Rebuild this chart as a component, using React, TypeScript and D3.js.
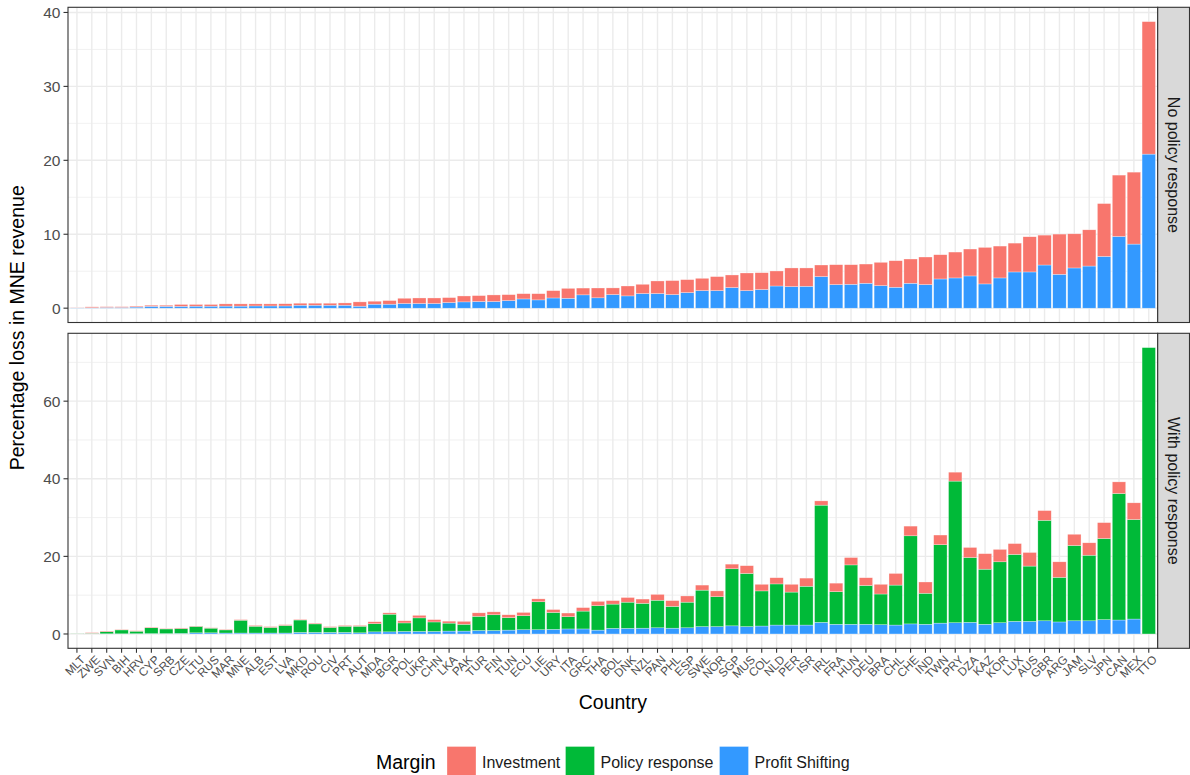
import React from 'react';
import * as d3 from 'd3';

const countries = ['MLT','ZWE','SVN','BIH','HRV','CYP','SRB','CZE','LTU','RUS','MAR','MNE','ALB','EST','LVA','MKD','ROU','CIV','PRT','AUT','MDA','BGR','POL','UKR','CHN','LKA','PAK','TUR','FIN','TUN','ECU','LIE','URY','ITA','GRC','THA','BOL','DNK','NZL','PAN','PHL','ESP','SWE','NOR','SGP','MUS','COL','NLD','PER','ISR','IRL','FRA','HUN','DEU','BRA','CHL','CHE','IND','TWN','PRY','DZA','KAZ','KOR','LUX','AUS','GBR','ARG','JAM','SLV','JPN','CAN','MEX','TTO'];

// Panel 1: No policy response
const noPolicyProfitShifting = [0.04,0.06,0.1,0.1,0.15,0.25,0.25,0.25,0.27,0.27,0.28,0.28,0.3,0.3,0.3,0.4,0.4,0.4,0.4,0.27,0.54,0.54,0.63,0.63,0.63,0.76,0.85,0.9,0.9,1.03,1.25,1.12,1.38,1.34,1.8,1.4,1.84,1.66,1.98,1.98,1.84,2.11,2.38,2.38,2.79,2.38,2.52,3.0,2.92,2.96,4.27,3.19,3.23,3.37,3.05,2.83,3.37,3.19,3.95,4.09,4.36,3.28,4.09,4.9,4.9,5.84,4.58,5.44,5.7,7.0,9.7,8.67,20.84];
const noPolicyInvestment = [0.04,0.12,0.1,0.1,0.12,0.15,0.15,0.25,0.23,0.23,0.3,0.3,0.28,0.28,0.3,0.27,0.27,0.27,0.31,0.58,0.4,0.49,0.71,0.75,0.75,0.67,0.8,0.8,0.89,0.8,0.71,0.84,0.99,1.34,0.92,1.33,0.9,1.34,1.25,1.7,1.89,1.75,1.66,1.89,1.7,2.38,2.28,2.03,2.52,2.48,1.57,2.69,2.65,2.6,3.15,3.59,3.28,3.73,3.28,3.5,3.64,4.94,4.31,3.9,4.76,4.04,5.44,4.62,4.9,7.15,8.3,9.73,17.92];
const noPolicyResponse = countries.map(() => 0);

// Panel 2: With policy response
const withPolicyProfitShifting = [0.02,0.05,0.05,0.05,0.07,0.1,0.1,0.15,0.3,0.3,0.25,0.25,0.25,0.25,0.25,0.4,0.4,0.4,0.4,0.3,0.55,0.55,0.65,0.65,0.65,0.75,0.75,0.9,0.9,1.0,1.1,1.1,1.2,1.3,1.3,1.0,1.45,1.45,1.5,1.6,1.5,1.6,1.9,1.9,2.1,1.9,2.05,2.3,2.3,2.3,3.0,2.5,2.5,2.5,2.4,2.3,2.6,2.5,2.8,2.9,3.0,2.5,2.9,3.25,3.25,3.4,3.1,3.4,3.4,3.7,3.6,3.85,0];
const withPolicyResponse = [0.08,0.15,0.55,1.0,0.65,1.5,1.2,1.25,1.65,1.2,0.8,3.3,1.75,1.45,1.95,3.2,2.2,1.3,1.6,1.7,2.1,4.55,2.2,3.5,2.45,2.05,1.75,3.65,4.05,3.2,3.6,7.2,4.35,3.15,4.6,6.3,6.25,6.75,6.4,7.1,5.6,6.6,9.4,7.7,14.7,13.7,9.05,10.6,8.5,10.0,30.2,8.4,15.3,10.0,7.9,10.3,22.7,8.0,20.2,36.5,16.7,14.2,15.7,17.25,14.25,25.9,11.5,19.4,16.9,20.9,32.6,25.65,73.8];
const withPolicyInvestment = [0.02,0.15,0.15,0.12,0.12,0.18,0.12,0.15,0.1,0.1,0.15,0.15,0.2,0.2,0.2,0.15,0.2,0.2,0.2,0.2,0.5,0.35,0.55,0.65,0.6,0.5,0.75,0.9,0.75,0.75,0.85,0.75,0.75,0.95,0.9,1.1,0.9,1.2,1.1,1.5,1.5,1.6,1.3,1.5,1.2,2.0,1.7,1.6,2.0,2.1,1.1,2.2,1.9,2.0,2.5,3.0,2.5,2.9,2.5,2.3,2.6,4.0,3.2,2.8,3.5,2.5,4.0,2.9,3.2,4.1,3.0,4.3,0];

const marginLabels = ['Investment', 'Policy response', 'Profit Shifting'];
const marginColors = ['#F8766D', '#00BA38', '#3399FF'];
const stackOrder = ['Profit Shifting', 'Policy response', 'Investment'];

const facetLabels = ['No policy response', 'With policy response'];
const topTicks = [0, 10, 20, 30, 40];
const topMinorTicks = [5, 15, 25, 35];
const bottomTicks = [0, 20, 40, 60];
const bottomMinorTicks = [10, 30, 50, 70];

const W = 1190;
const H = 775;
const FONT = '"Liberation Sans", Arial, Helvetica, sans-serif';
const panelLeft = 68;
const panelRight = 1157.7;
const stripRight = 1189.5;
const panels = [
  { top: 7.3, bottom: 322.5 },
  { top: 333.3, bottom: 648.3 },
];

type Row = { country: string; [k: string]: number | string };

function buildRows(ps: number[], pr: number[], inv: number[]): Row[] {
  return countries.map((c, i) => ({
    country: c,
    'Profit Shifting': ps[i],
    'Policy response': pr[i],
    Investment: inv[i],
  }));
}

const facetData = [
  buildRows(noPolicyProfitShifting, noPolicyResponse, noPolicyInvestment),
  buildRows(withPolicyProfitShifting, withPolicyResponse, withPolicyInvestment),
];
const facetTicks = [topTicks, bottomTicks];
const facetMinor = [topMinorTicks, bottomMinorTicks];

const colorOf = d3.scaleOrdinal<string, string>().domain(marginLabels).range(marginColors);

export default function App() {
  const x = d3.scalePoint<string>().domain(countries).range([panelLeft, panelRight]).padding(0.6);
  const step = x.step();
  const barW = step * 0.9;
  const stack = d3.stack<Row>().keys(stackOrder).value((d, k) => d[k] as number);

  return (
    <svg width={W} height={H} style={{ position: 'absolute', left: 0, top: 0, background: '#fff' }} fontFamily={FONT}>
      <rect x={0} y={0} width={W} height={H} fill="#fff" />
      {facetData.map((rows, fi) => {
        const p = panels[fi];
        const series = stack(rows);
        const maxV = d3.max(series[series.length - 1], (d) => d[1]) as number;
        const y = d3.scaleLinear().domain([-0.05 * maxV, maxV * 1.05]).range([p.bottom, p.top]);
        return (
          <g key={fi}>
            <rect x={panelLeft} y={p.top} width={panelRight - panelLeft} height={p.bottom - p.top} fill="#fff" />
            {facetMinor[fi].map((t) => (
              <line key={'mn' + t} x1={panelLeft} x2={panelRight} y1={y(t)} y2={y(t)} stroke="#EBEBEB" strokeWidth={0.7} />
            ))}
            {facetTicks[fi].map((t) => (
              <line key={'mj' + t} x1={panelLeft} x2={panelRight} y1={y(t)} y2={y(t)} stroke="#EBEBEB" strokeWidth={1.4} />
            ))}
            {countries.map((c) => (
              <line key={'v' + c} x1={x(c)} x2={x(c)} y1={p.top} y2={p.bottom} stroke="#EBEBEB" strokeWidth={1.4} />
            ))}
            {series.map((s) => (
              <g key={s.key} fill={colorOf(s.key)}>
                {s.map((d, i) =>
                  d[1] - d[0] > 0 ? (
                    <rect
                      key={i}
                      x={(x(countries[i]) as number) - barW / 2}
                      y={y(d[1])}
                      width={barW}
                      height={Math.max(0, y(d[0]) - y(d[1]))}
                      stroke="#ffffff"
                      strokeOpacity={0.6}
                      strokeWidth={0.5}
                    />
                  ) : null
                )}
              </g>
            ))}
            <rect x={panelLeft} y={p.top} width={panelRight - panelLeft} height={p.bottom - p.top} fill="none" stroke="#333333" strokeWidth={1.1} />
            {/* strip */}
            <rect x={panelRight} y={p.top} width={stripRight - panelRight} height={p.bottom - p.top} fill="#D9D9D9" stroke="#333333" strokeWidth={1.1} />
            <text
              transform={`translate(${(panelRight + stripRight) / 2},${(p.top + p.bottom) / 2}) rotate(90)`}
              textAnchor="middle"
              dy="0.35em"
              fontSize={16}
              fill="#1A1A1A"
            >
              {facetLabels[fi]}
            </text>
            {/* y axis */}
            {facetTicks[fi].map((t) => (
              <g key={'yt' + t}>
                <line x1={panelLeft - 4.5} x2={panelLeft} y1={y(t)} y2={y(t)} stroke="#333333" strokeWidth={1.1} />
                <text x={panelLeft - 7.5} y={y(t)} dy="0.36em" textAnchor="end" fontSize={15.5} fill="#4D4D4D">
                  {t}
                </text>
              </g>
            ))}
          </g>
        );
      })}
      {/* x axis */}
      {countries.map((c) => (
        <g key={'xt' + c}>
          <line x1={x(c)} x2={x(c)} y1={panels[1].bottom} y2={panels[1].bottom + 4.5} stroke="#333333" strokeWidth={1.1} />
          <text
            transform={`translate(${(x(c) as number) + 3},${panels[1].bottom + 6}) rotate(-45)`}
            textAnchor="end"
            dy="0.72em"
            fontSize={11.8}
            fill="#4D4D4D"
          >
            {c}
          </text>
        </g>
      ))}
      <text x={(panelLeft + panelRight) / 2} y={709} textAnchor="middle" fontSize={19.5} fill="#000">
        Country
      </text>
      <text
        transform={`translate(24,${(panels[0].top + panels[1].bottom) / 2}) rotate(-90)`}
        textAnchor="middle"
        fontSize={19.5}
        fill="#000"
      >
        Percentage loss in MNE revenue
      </text>
      {/* legend */}
      <text x={376} y={769} fontSize={19.5} fill="#000">
        Margin
      </text>
      {marginLabels.map((m, i) => {
        const kx = [447, 565.5, 719.5][i];
        return (
          <g key={m}>
            <rect x={kx} y={746.5} width={29} height={29} fill={colorOf(m)} stroke="#fff" strokeOpacity={0.6} strokeWidth={0.5} />
            <text x={kx + 35} y={768} fontSize={16} fill="#1A1A1A">
              {m}
            </text>
          </g>
        );
      })}
    </svg>
  );
}
